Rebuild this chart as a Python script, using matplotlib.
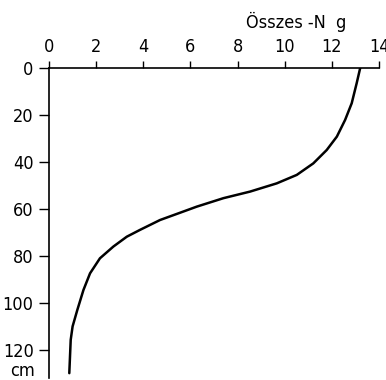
import numpy as np
import matplotlib
matplotlib.use("Agg")
import matplotlib.pyplot as plt

# Összes-N (g) és mélység (cm)
n_total = [13.2, 13.05, 12.84, 12.56, 12.21, 11.78, 11.21, 10.51, 9.66, 8.53, 7.40,
           6.27, 5.56, 4.71, 3.86, 3.30, 2.73, 2.16, 1.74, 1.46, 1.20, 1.0, 0.92, 0.89, 0.86]
depth = [0, 6.5, 15.0, 22.1, 29.2, 34.9, 40.6, 45.5, 49.1, 52.6, 55.4,
         59.0, 61.6, 64.7, 68.9, 71.8, 76.0, 81.0, 87.4, 94.5, 103, 110, 115.7, 122.8, 129.9]

xticks = [0, 2, 4, 6, 8, 10, 12, 14]
yticks = [0, 20, 40, 60, 80, 100, 120]

plt.rcParams['font.family'] = ['DejaVu Sans']
plt.rcParams['font.stretch'] = 'condensed'

fig = plt.figure(figsize=(3.86, 3.80), dpi=100)
ax = fig.add_axes([0.127, 0.005, 0.855, 0.816])

ax.plot(n_total, depth, color='black', lw=1.8, solid_capstyle='round', solid_joinstyle='round')

ax.set_xlim(0, 14)
ax.set_ylim(132, 0)
ax.xaxis.tick_top()
ax.set_xticks(xticks)
ax.set_yticks(yticks)
ax.tick_params(axis='x', direction='out', length=5, width=1, labelsize=13, pad=4)
ax.tick_params(axis='y', direction='out', length=7, width=1, labelsize=13, pad=4)
for s in ['right', 'bottom']:
    ax.spines[s].set_visible(False)
ax.spines['top'].set_linewidth(1.2)
ax.spines['left'].set_linewidth(1.2)

ax.text(0.75, 1.129, 'Összes -N  g', transform=ax.transAxes, ha='center', va='baseline', fontsize=13)
fig.text(0.058, 0.01, 'cm', ha='center', va='baseline', fontsize=13)

fig.savefig('out.png', dpi=100)
